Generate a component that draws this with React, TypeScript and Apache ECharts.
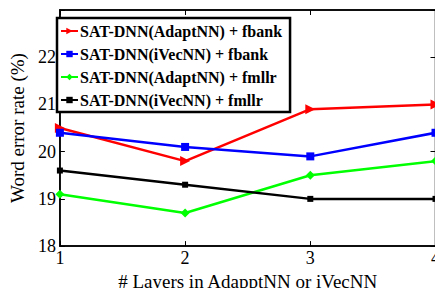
import React, { useEffect, useRef } from "react";
import * as echarts from "echarts";

const layers = [1, 2, 3, 4];
const adaptFbank = [20.5, 19.8, 20.9, 21.0];
const ivecFbank = [20.4, 20.1, 19.9, 20.4];
const adaptFmllr = [19.1, 18.7, 19.5, 19.8];
const ivecFmllr = [19.6, 19.3, 19.0, 19.0];

const seriesNames = [
  "SAT-DNN(AdaptNN) + fbank",
  "SAT-DNN(iVecNN) + fbank",
  "SAT-DNN(AdaptNN) + fmllr",
  "SAT-DNN(iVecNN) + fmllr",
];

const FONT = "Liberation Serif";

export default function App() {
  const ref = useRef<HTMLDivElement>(null);
  useEffect(() => {
    if (!ref.current) return;
    const chart = echarts.init(ref.current, undefined, { renderer: "svg" });
    const pts = (arr: number[]) => layers.map((x, i) => [x, arr[i]]);
    const mk = (
      name: string,
      data: number[],
      color: string,
      symbol: string,
      size: number,
      rotate = 0
    ) => ({
      name,
      type: "line",
      data: pts(data),
      symbol,
      symbolSize: size,
      symbolRotate: rotate,
      showAllSymbol: true,
      lineStyle: { color, width: 2.5 },
      itemStyle: { color },
      z: 3,
    });
    const tickStyle = { lineStyle: { color: "#000", width: 1 } };
    chart.setOption({
      animation: false,
      textStyle: { fontFamily: FONT },
      grid: {
        left: 52,
        top: 10,
        right: 1,
        bottom: 39,
        show: true,
        borderColor: "#000",
        borderWidth: 1.5,
        backgroundColor: "#fff",
      },
      legend: {
        orient: "vertical",
        left: 57,
        top: 18,
        padding: [5, 8, 4, 3],
        itemGap: 7,
        itemWidth: 17,
        itemHeight: 8,
        borderColor: "#000",
        borderWidth: 2.5,
        backgroundColor: "#fff",
        textStyle: {
          fontFamily: FONT,
          fontSize: 16,
          fontWeight: "bold",
          color: "#000",
          padding: [0, 0, 0, -3],
        },
        data: seriesNames,
      },
      xAxis: [
        {
          type: "value",
          min: 1,
          max: 4,
          interval: 1,
          name: "# Layers in AdapptNN or iVecNN",
          nameLocation: "middle",
          nameGap: 21,
          nameTextStyle: {
            fontFamily: FONT,
            fontSize: 19,
            color: "#000",
            verticalAlign: "top",
          },
          axisLine: { show: true, lineStyle: { color: "#000", width: 1.5 } },
          axisTick: { show: true, inside: true, length: 5, ...tickStyle },
          axisLabel: {
            fontFamily: FONT,
            fontSize: 18,
            color: "#000",
            margin: 3,
          },
          splitLine: { show: false },
        },
        {
          type: "value",
          position: "top",
          min: 1,
          max: 4,
          interval: 1,
          axisLine: { show: true, lineStyle: { color: "#000", width: 1.5 } },
          axisTick: { show: true, inside: true, length: 5, ...tickStyle },
          axisLabel: { show: false },
          splitLine: { show: false },
        },
      ],
      yAxis: [
        {
          type: "value",
          min: 18,
          max: 23,
          interval: 1,
          name: "Word error rate (%)",
          nameLocation: "middle",
          nameGap: 25,
          nameRotate: 90,
          nameTextStyle: {
            fontFamily: FONT,
            fontSize: 19,
            color: "#000",
          },
          axisLine: { show: true, lineStyle: { color: "#000", width: 1.5 } },
          axisTick: { show: true, inside: true, length: 5, ...tickStyle },
          axisLabel: {
            fontFamily: FONT,
            fontSize: 18,
            color: "#000",
            margin: 4,
            formatter: (v: number) => (v >= 23 ? "" : String(v)),
          },
          splitLine: { show: false },
        },
        {
          type: "value",
          position: "right",
          min: 18,
          max: 23,
          interval: 1,
          axisLine: { show: true, lineStyle: { color: "#000", width: 1.5 } },
          axisTick: { show: true, inside: true, length: 5, ...tickStyle },
          axisLabel: { show: false },
          splitLine: { show: false },
        },
      ],
      series: [
        mk(seriesNames[0], adaptFbank, "#ff0000", "triangle", 10, -90),
        mk(seriesNames[1], ivecFbank, "#0000ff", "rect", 8),
        mk(seriesNames[2], adaptFmllr, "#00ff00", "diamond", 9),
        mk(seriesNames[3], ivecFmllr, "#000000", "rect", 6),
      ],
    });
    return () => chart.dispose();
  }, []);
  return <div ref={ref} style={{ width: 443, height: 296, margin: -8 }} />;
}
